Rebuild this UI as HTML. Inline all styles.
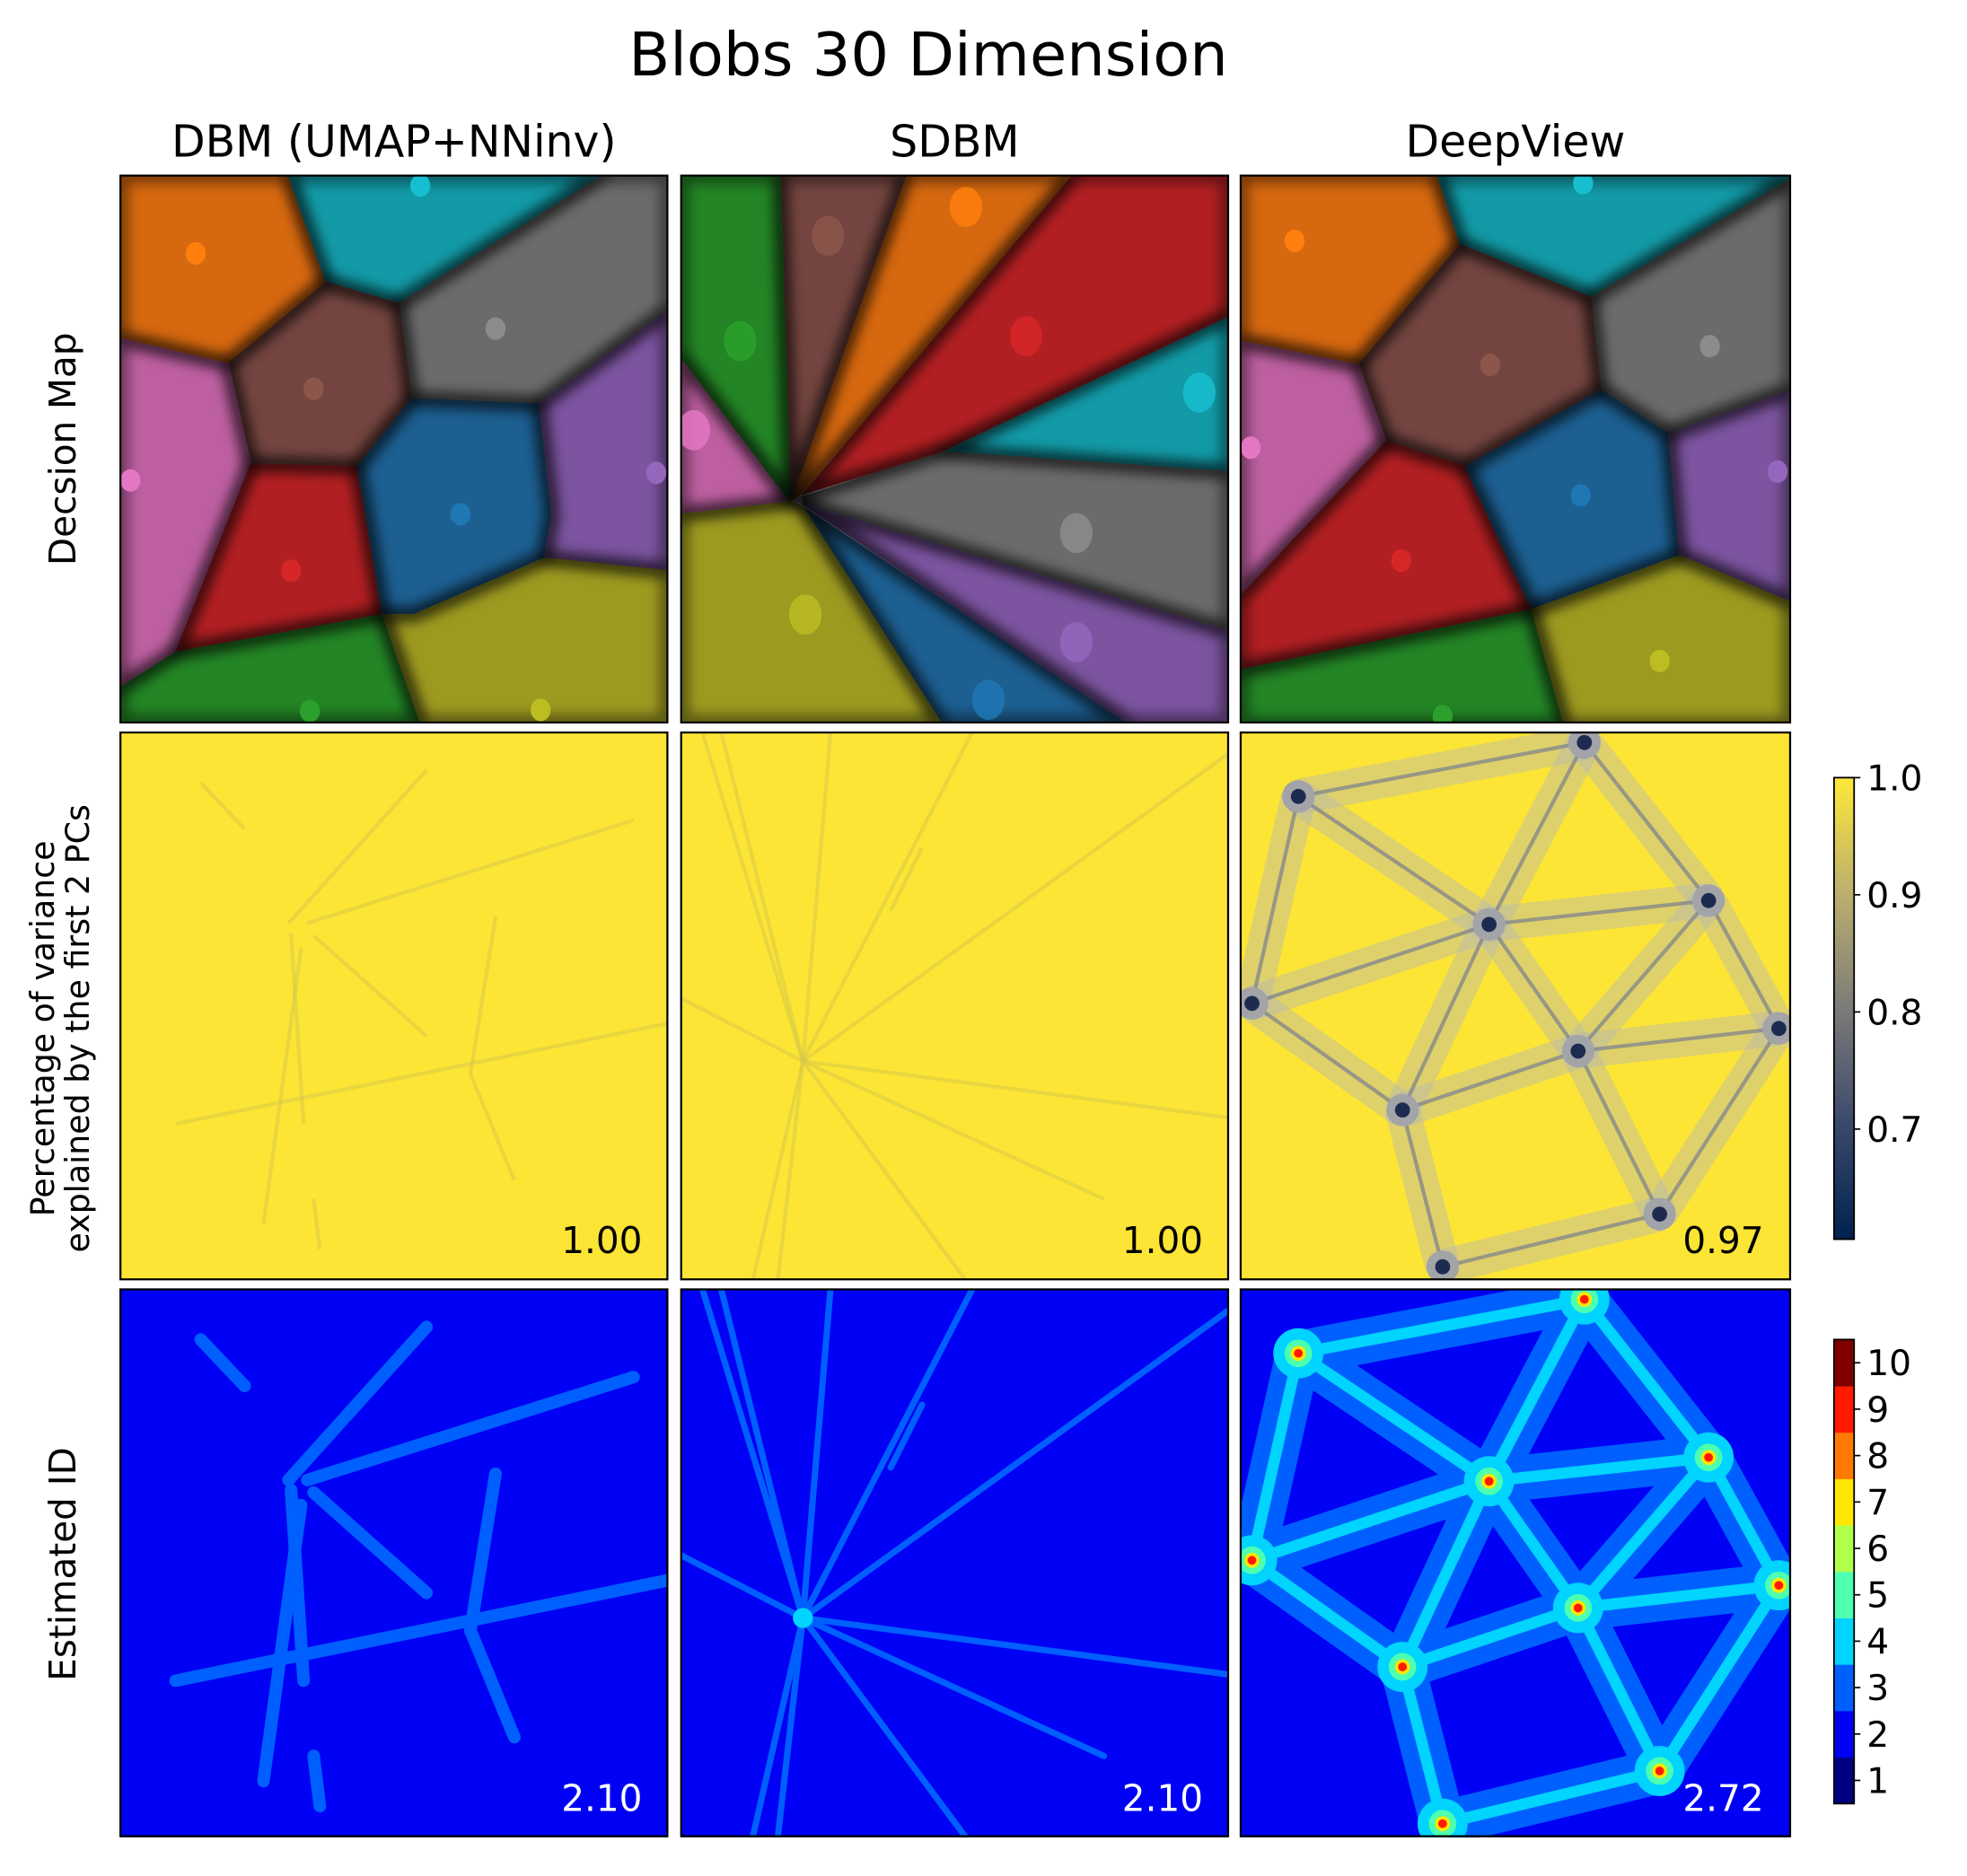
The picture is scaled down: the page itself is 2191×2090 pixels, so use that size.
<!DOCTYPE html>
<html><head><meta charset="utf-8">
<style>
html,body{margin:0;padding:0;background:#fff;}
svg{display:block;font-family:"DejaVu Sans","Liberation Sans",sans-serif;}
</style></head>
<body>
<svg id="fig" width="2191" height="2090" viewBox="0 0 1568 1495.7" xmlns="http://www.w3.org/2000/svg">
<defs>
<clipPath id="c1"><rect x="96" y="140" width="436" height="436"/></clipPath>
<clipPath id="c2"><rect x="543" y="140" width="436" height="436"/></clipPath>
<clipPath id="c3"><rect x="989" y="140" width="438" height="436"/></clipPath>
<clipPath id="c4"><rect x="96" y="584" width="436" height="436"/></clipPath>
<clipPath id="c5"><rect x="543" y="584" width="436" height="436"/></clipPath>
<clipPath id="c6"><rect x="989" y="584" width="438" height="436"/></clipPath>
<clipPath id="c7"><rect x="96" y="1028" width="436" height="437"/></clipPath>
<clipPath id="c8"><rect x="543" y="1028" width="436" height="437"/></clipPath>
<clipPath id="c9"><rect x="989" y="1028" width="438" height="437"/></clipPath>
<filter id="soft" x="-5%" y="-5%" width="110%" height="110%"><feGaussianBlur stdDeviation="5"/></filter>
<linearGradient id="cividis" x1="0" y1="1" x2="0" y2="0">
<stop offset="0" stop-color="#00224e"/><stop offset="0.25" stop-color="#3b496c"/>
<stop offset="0.5" stop-color="#7c7b78"/><stop offset="0.75" stop-color="#bcaf6f"/>
<stop offset="1" stop-color="#fee838"/></linearGradient>
</defs>
<text x="740" y="60" font-size="48" text-anchor="middle">Blobs 30 Dimension</text>
<text x="314" y="125" font-size="35" text-anchor="middle">DBM (UMAP+NNinv)</text>
<text x="761" y="125" font-size="35" text-anchor="middle">SDBM</text>
<text x="1208" y="125" font-size="35" text-anchor="middle">DeepView</text>
<text transform="translate(60,358) rotate(-90)" font-size="29" text-anchor="middle">Decsion Map</text>
<text transform="translate(43,820) rotate(-90)" font-size="26" text-anchor="middle">Percentage of variance</text>
<text transform="translate(71,820) rotate(-90)" font-size="26" text-anchor="middle">explained by the first 2 PCs</text>
<text transform="translate(60,1247) rotate(-90)" font-size="29" text-anchor="middle">Estimated ID</text>
<g id="panels"></g>
<g id="cbars"></g>
</svg>
<script>
const NS="http://www.w3.org/2000/svg";
// ---- data ----
const classColors=["#d6680f","#129aa6","#6b6b6b","#744540","#bd5fa0","#b21f22","#1c5f91","#7c54a0","#238525","#9d9a20"];
const blobColors=["#ff7f0e","#17becf","#8c8c8c","#8c564b","#e377c2","#d62728","#1f77b4","#9467bd","#2ca02c","#bcbd22"];
const dbmRegions=[
"96,140 230,140 260,225 182,290 96,270","230,140 480,140 318,242 260,225",
"480,140 532,140 532,248 430,322 328,318 318,242","260,225 318,242 328,318 285,372 200,370 182,290",
"96,270 182,290 200,370 140,520 96,548","200,370 285,372 305,490 140,520",
"328,318 430,322 440,410 434,445 330,490 305,490 285,372","532,248 430,322 440,410 434,445 532,455",
"96,548 140,520 305,490 335,576 96,576","305,490 330,490 434,445 532,455 532,576 335,576"];
const dbmBlobs=[[156,202],[335,148],[395,262],[250,310],[104,383],[232,455],[367,410],[523,377],[247,567],[431,566]];
const sdbmRegions=[
"722,140 855,140 640,392 630,400","979,252 979,376 750,360",
"640,396 750,360 979,376 979,503 640,402","622,140 722,140 630,400",
"543,285 630,400 543,410","855,140 979,140 979,252 750,360 640,394",
"640,404 898,576 750,576","640,402 979,503 979,576 898,576",
"543,140 622,140 630,400 543,285","630,400 640,404 750,576 543,576 543,410"];
const sdbmBlobs=[[770,165],[956,313],[858,425],[660,188],[553,343],[818,268],[788,558],[858,512],[590,272],[642,490]];
const dvRegions=[
"989,140 1146,140 1164,195 1083,291 989,272","1146,140 1427,140 1427,143 1268,237 1164,195",
"1427,143 1427,311 1330,346 1276,311 1268,237","1164,195 1268,237 1276,311 1168,372 1105,352 1083,291",
"989,272 1083,291 1105,352 989,475","1105,352 1168,372 1221,486 989,534 989,475",
"1168,372 1276,311 1330,346 1339,443 1221,486","1330,346 1427,311 1427,480 1339,443",
"989,534 1221,486 1247,578 989,578","1221,486 1339,443 1427,480 1427,578 1247,578"];
const dvBlobs=[[1032,192],[1262,146],[1363,276],[1188,291],[997,357],[1117,447],[1260,395],[1417,376],[1150,571],[1323,527]];
// DeepView node graph (row-relative y, row 1 origin 140)
const nodesX=[1035,1263,1362,1187,998,1418,1258,1118,1323,1150];
const nodesY=[191,148,274,293,356,376,394,441,524,566];
const edges=[[0,1],[0,4],[0,3],[1,3],[1,2],[3,2],[3,4],[3,7],[3,6],[2,6],[2,5],[6,5],[6,7],[6,8],[7,4],[7,9],[8,5],[8,9]];
// streaks (row-relative) for DBM and SDBM
const dbmStreaks=[[160,40,195,77],[230,152,340,30],[245,152,505,70],[140,312,532,232],[232,160,242,312],[210,392,240,172],[250,162,340,242],[395,147,375,272],[375,272,410,357],[250,372,255,412]];
const sdbmStreaks=[[640,262,560,0],[640,262,575,0],[640,262,662,0],[640,262,979,17],[640,262,979,307],[640,262,880,372],[640,262,770,437],[640,262,620,437],[640,262,600,437],[640,262,543,212],[735,92,710,142],[640,262,775,0]];
const panelValues=["1.00","1.00","0.97","2.10","2.10","2.72"];
const cb1Ticks=[0.7,0.8,0.9,1.0];
const cb1Min=0.606, cb1Max=1.0;
const cb2Ticks=[1,2,3,4,5,6,7,8,9,10];
const jetColors=["#000080","#0000f5","#0060ff","#00d4ff","#4dffb0","#b0ff4d","#ffe600","#ff7a00","#ff1a00","#800000"];
// ---- helpers ----
function el(t,a,p){const e=document.createElementNS(NS,t);for(const k in a)e.setAttribute(k,a[k]);p.appendChild(e);return e;}
const panels=document.getElementById('panels');
const colX=[96,543,989], colW=[436,436,438], rowY=[140,584,1028];
function frame(c,r,name){
  const f=el('rect',{x:colX[c],y:rowY[r],width:colW[c],height:436,fill:'none',stroke:'#000','stroke-width':1.6},panels);
  
  
}
// ---- row 1: decision maps ----
[[dbmRegions,dbmBlobs,'c1','dbm'],[sdbmRegions,sdbmBlobs,'c2','sdbm'],[dvRegions,dvBlobs,'c3','deepview']].forEach((d,i)=>{
  const g=el('g',{'clip-path':'url(#'+d[2]+')'},panels);
  
  
  d[0].forEach((pts,k)=>{
    const p=el('polygon',{points:pts,fill:classColors[k],stroke:classColors[k],'stroke-width':1},g);
    
    
  });
  const sh=el('g',{filter:'url(#soft)'},g);
  d[0].forEach((pts,k)=>{
    el('polygon',{points:pts,fill:'none',stroke:'#000','stroke-opacity':0.45,'stroke-width':12,'stroke-linejoin':'round'},sh);
  });
  d[1].forEach((b,k)=>{
    const rx=i==1?13:8, ry=i==1?16:9;
    const c=el('ellipse',{cx:b[0],cy:b[1],rx:rx,ry:ry,fill:blobColors[k],opacity:i==1?0.85:1},g);
    
    
  });
  frame(i,0,d[3]+'-decision-map');
});
// ---- row 2: variance ----
[['c4',dbmStreaks,'dbm'],['c5',sdbmStreaks,'sdbm']].forEach((d,i)=>{
  const g=el('g',{'clip-path':'url(#'+d[0]+')'},panels);
  
  
  el('rect',{x:colX[i],y:584,width:436,height:436,fill:'#fde535'},g);
  d[1].forEach(s=>{
    const l=el('line',{x1:s[0],y1:s[1]+584,x2:s[2],y2:s[3]+584,stroke:'#d6c84a','stroke-width':3,'stroke-opacity':0.5},g);
    
    
  });
  frame(i,1,d[2]+'-variance-map');
});
(function(){
  const g=el('g',{'clip-path':'url(#c6)'},panels);
  
  
  el('rect',{x:989,y:584,width:438,height:436,fill:'#fde535'},g);
  edges.forEach(e=>{
    const a=e[0],b=e[1];
    el('line',{x1:nodesX[a],y1:nodesY[a]+444,x2:nodesX[b],y2:nodesY[b]+444,stroke:'#b8b8b0','stroke-width':28,'stroke-opacity':0.45},g);
  });
  edges.forEach(e=>{
    const a=e[0],b=e[1];
    const l=el('line',{x1:nodesX[a],y1:nodesY[a]+444,x2:nodesX[b],y2:nodesY[b]+444,stroke:'#7a7f8e','stroke-width':3,'stroke-opacity':0.7},g);
    
    
  });
  nodesX.forEach((x,k)=>{
    el('circle',{cx:x,cy:nodesY[k]+444,r:13,fill:'#a2a4a8'},g);
    const c=el('circle',{cx:x,cy:nodesY[k]+444,r:6,fill:'#1d2b50'},g);
    
    
  });
  frame(2,1,'deepview-variance-map');
})();
// ---- row 3: estimated ID ----
[['c7',dbmStreaks,'dbm'],['c8',sdbmStreaks,'sdbm']].forEach((d,i)=>{
  const g=el('g',{'clip-path':'url(#'+d[0]+')'},panels);
  
  
  el('rect',{x:colX[i],y:1028,width:436,height:437,fill:jetColors[1]},g);
  d[1].forEach(s=>{
    const l=el('line',{x1:s[0],y1:s[1]+1028,x2:s[2],y2:s[3]+1028,stroke:jetColors[2],'stroke-width':i==0?10:5,'stroke-linecap':'round'},g);
    
    
  });
  if(i==1){el('circle',{cx:640,cy:1290,r:8,fill:jetColors[3]},g);}
  frame(i,2,d[2]+'-id-map');
});
(function(){
  const g=el('g',{'clip-path':'url(#c9)'},panels);
  
  
  el('rect',{x:989,y:1028,width:438,height:437,fill:jetColors[1]},g);
  edges.forEach(e=>{const a=e[0],b=e[1];
    el('line',{x1:nodesX[a],y1:nodesY[a]+888,x2:nodesX[b],y2:nodesY[b]+888,stroke:jetColors[2],'stroke-width':36},g);});
  edges.forEach(e=>{const a=e[0],b=e[1];
    const l=el('line',{x1:nodesX[a],y1:nodesY[a]+888,x2:nodesX[b],y2:nodesY[b]+888,stroke:jetColors[3],'stroke-width':9},g);
    
    });
  nodesX.forEach((x,k)=>{const y=nodesY[k]+888;
    el('circle',{cx:x,cy:y,r:20,fill:jetColors[3]},g);
    el('circle',{cx:x,cy:y,r:11,fill:jetColors[4]},g);
    el('circle',{cx:x,cy:y,r:6,fill:jetColors[6]},g);
    const c=el('circle',{cx:x,cy:y,r:3.5,fill:jetColors[8]},g);
    
    });
  frame(2,2,'deepview-id-map');
})();
// ---- panel values ----
const valPos=[[512,999,'#000'],[959,999,'#000'],[1406,999,'#000'],[512,1444,'#fff'],[959,1444,'#fff'],[1406,1444,'#fff']];
panelValues.forEach((v,k)=>{
  const t=el('text',{x:valPos[k][0],y:valPos[k][1],'font-size':29,'text-anchor':'end',fill:valPos[k][2]},panels);
  t.textContent=v;
  
  
});
// ---- colorbars ----
const cb=document.getElementById('cbars');
const cb1Top=620, cb1Bot=988, cbX=1462, cbW=16;
function y1(v){return cb1Bot-(v-cb1Min)/(cb1Max-cb1Min)*(cb1Bot-cb1Top);}
const r1=el('rect',{x:cbX,y:cb1Top,width:cbW,height:cb1Bot-cb1Top,fill:'url(#cividis)',stroke:'#000','stroke-width':1.3},cb);


cb1Ticks.forEach(v=>{
  el('line',{x1:cbX+cbW,x2:cbX+cbW+5,y1:y1(v),y2:y1(v),stroke:'#000','stroke-width':1.2},cb);
  const t=el('text',{x:cbX+cbW+10,y:y1(v)+10,'font-size':28},cb);
  t.textContent=v.toFixed(1);
  
  
});
const cb2Top=1068, cb2Bot=1438;
function y2(v){return cb2Bot-(v-0.5)/10*(cb2Bot-cb2Top);}
cb2Ticks.forEach((v,k)=>{
  el('rect',{x:cbX,y:y2(v+0.5),width:cbW,height:y2(v-0.5)-y2(v+0.5)+0.3,fill:jetColors[k]},cb);
});
const r2=el('rect',{x:cbX,y:cb2Top,width:cbW,height:cb2Bot-cb2Top,fill:'none',stroke:'#000','stroke-width':1.3},cb);


cb2Ticks.forEach(v=>{
  el('line',{x1:cbX+cbW,x2:cbX+cbW+5,y1:y2(v),y2:y2(v),stroke:'#000','stroke-width':1.2},cb);
  const t=el('text',{x:cbX+cbW+10,y:y2(v)+10,'font-size':28},cb);
  t.textContent=String(v);
  
  
});
</script>
</body></html>
